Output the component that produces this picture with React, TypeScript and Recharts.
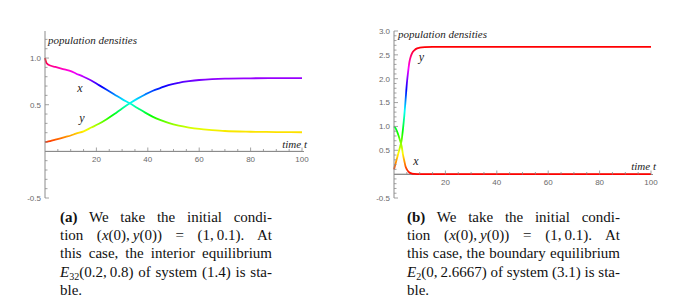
import React from "react";
import { LineChart, Line, XAxis, YAxis, ReferenceLine } from "recharts";

// panel (a): interior equilibrium E32(0.2, 0.8)
const timeA = [0, 0.5, 1, 2, 4, 6, 8, 10, 12, 15, 18, 21, 24, 27, 30, 33, 36, 39, 42, 45, 48, 52, 56, 60, 65, 70, 80, 90, 100];
const xA = [1.0, 0.95, 0.935, 0.92, 0.905, 0.89, 0.875, 0.86, 0.835, 0.8, 0.76, 0.71, 0.66, 0.61, 0.56, 0.515, 0.465, 0.415, 0.37, 0.335, 0.305, 0.275, 0.255, 0.24, 0.228, 0.218, 0.21, 0.207, 0.205];
const yA = [0.1, 0.102, 0.104, 0.11, 0.125, 0.14, 0.155, 0.17, 0.19, 0.215, 0.255, 0.295, 0.345, 0.4, 0.46, 0.515, 0.565, 0.61, 0.65, 0.68, 0.71, 0.735, 0.752, 0.765, 0.775, 0.78, 0.783, 0.785, 0.785];

// panel (b): boundary equilibrium E2(0, 2.6667)
const timeB = [0, 0.5, 1, 1.5, 2, 2.5, 3, 3.5, 4, 4.5, 5, 5.5, 6, 6.5, 7, 8, 9, 10, 12, 15, 20, 30, 40, 60, 80, 100];
const xB = [1.0, 0.97, 0.92, 0.85, 0.77, 0.68, 0.58, 0.41, 0.28, 0.16, 0.1, 0.06, 0.035, 0.02, 0.01, 0.004, 0.001, 0, 0, 0, 0, 0, 0, 0, 0, 0];
const yB = [0.1, 0.2, 0.3, 0.4, 0.5, 0.6, 0.72, 0.95, 1.22, 1.55, 1.9, 2.15, 2.35, 2.46, 2.53, 2.6, 2.635, 2.65, 2.662, 2.666, 2.6667, 2.6667, 2.6667, 2.6667, 2.6667, 2.6667];

const xTicks = [5, 10, 15, 20, 25, 30, 35, 40, 45, 50, 55, 60, 65, 70, 75, 80, 85, 90, 95, 100];
const xLabels = [20, 40, 60, 80, 100];
const yTicksA = [-0.5, -0.4, -0.3, -0.2, -0.1, 0.1, 0.2, 0.3, 0.4, 0.5, 0.6, 0.7, 0.8, 0.9, 1.0, 1.1, 1.2];
const yLabelsA = [-0.5, 0.5, 1.0];
const yTicksB = [-0.5, -0.4, -0.3, -0.2, -0.1, 0.1, 0.2, 0.3, 0.4, 0.5, 0.6, 0.7, 0.8, 0.9, 1.0, 1.1, 1.2, 1.3, 1.4, 1.5, 1.6, 1.7, 1.8, 1.9, 2.0, 2.1, 2.2, 2.3, 2.4, 2.5, 2.6, 2.7, 2.8, 2.9, 3.0];
const yLabelsB = [-0.5, 0.5, 1.0, 1.5, 2.0, 2.5, 3.0];

const AXIS = "#8c8c8c";
const TICK_TEXT = "#6a6a6a";
const SERIF = "'Liberation Serif', 'Times New Roman', serif";
const SANS = "'Liberation Sans', Arial, sans-serif";

const H = 210;
const TOP = 31;
const BOTTOM = 12;

const rowsA = timeA.map((t, i) => ({ t, x: xA[i], y: yA[i] }));
const rowsB = timeB.map((t, i) => ({ t, x: xB[i], y: yB[i] }));

// stops for a vertical hue gradient, coloured by value like Mathematica's ColorFunction -> Hue
function hueStops(min: number, max: number, lo: number, hi: number) {
  const n = 24;
  const out = [];
  for (let i = 0; i < n; i++) {
    const v = max - ((max - min) * i) / (n - 1);
    const h = Math.max(0, Math.min(360, ((v - lo) / (hi - lo)) * 360));
    out.push(<stop key={i} offset={`${(i / (n - 1)) * 100}%`} stopColor={`hsl(${h.toFixed(1)},100%,50%)`} />);
  }
  return out;
}

function YTick(props: any) {
  const { x, y, payload, labels } = props;
  const major = labels.includes(payload.value);
  return (
    <g>
      <line x1={x} x2={x + (major ? 4 : 2.5)} y1={y} y2={y} stroke={AXIS} strokeWidth={0.8} />
      {major && (
        <text x={x - 4} y={y} dy="0.35em" textAnchor="end" fontSize={8} fontFamily={SANS} fill={TICK_TEXT}>
          {payload.value.toFixed(1)}
        </text>
      )}
    </g>
  );
}

// x axis ticks sit on y = 0 (Mathematica style), not at the bottom of the plot
function XTick(props: any) {
  const { x, y, payload, shift } = props;
  const zy = Math.round(y - shift) + 0.5;
  const major = xLabels.includes(payload.value);
  return (
    <g>
      <line x1={x} x2={x} y1={zy} y2={zy - (major ? 4 : 2.5)} stroke={AXIS} strokeWidth={0.8} />
      {major && (
        <text x={x} y={zy + 10} textAnchor="middle" fontSize={8} fontFamily={SANS} fill={TICK_TEXT}>
          {payload.value}
        </text>
      )}
    </g>
  );
}

function Panel(props: any) {
  const { id, rows, width, right, axisW, domain, ticks, labels, xRange, yRange, lo, hi } = props;
  const plotH = H - TOP - BOTTOM;
  const shift = (plotH * (0 - domain[0])) / (domain[1] - domain[0]);
  const zeroY = Math.round(TOP + plotH - shift) + 0.5;
  return (
    <div style={{ position: "relative", width, height: H }}>
      <svg width={width} height={H} style={{ position: "absolute", left: 0, top: 0, pointerEvents: "none" }}>
        <line x1={axisW} x2={width - right + 2} y1={zeroY} y2={zeroY} stroke={AXIS} strokeWidth={1} />
      </svg>
      <div style={{ position: "absolute", left: 0, top: 0 }}>
        <LineChart width={width} height={H} data={rows} margin={{ top: TOP, right, bottom: 0, left: 0 }}>
          <defs>
            <linearGradient id={`${id}x`} x1="0" y1="0" x2="0" y2="1">
              {hueStops(xRange[0], xRange[1], lo, hi)}
            </linearGradient>
            <linearGradient id={`${id}y`} x1="0" y1="0" x2="0" y2="1">
              {hueStops(yRange[0], yRange[1], lo, hi)}
            </linearGradient>
          </defs>
          <XAxis
            dataKey="t"
            type="number"
            domain={[0, 100]}
            ticks={xTicks}
            interval={0}
            height={BOTTOM}
            axisLine={false}
            tickLine={false}
            tickSize={0}
            tickMargin={0}
            tick={<XTick shift={shift} />}
          />
          <YAxis
            type="number"
            domain={domain}
            allowDataOverflow
            ticks={ticks}
            interval={0}
            width={axisW}
            axisLine={{ stroke: AXIS, strokeWidth: 1 }}
            tickLine={false}
            tickSize={0}
            tickMargin={0}
            tick={<YTick labels={labels} />}
          />
          <ReferenceLine y={0} stroke={AXIS} strokeWidth={1} />
          <Line type="monotone" dataKey="x" stroke={`url(#${id}x)`} strokeWidth={1.8} dot={false} isAnimationActive={false} />
          <Line type="monotone" dataKey="y" stroke={`url(#${id}y)`} strokeWidth={1.8} dot={false} isAnimationActive={false} />
        </LineChart>
      </div>
    </div>
  );
}

const lineStyle: React.CSSProperties = { height: 18.2, lineHeight: "18.2px", textAlign: "justify", textAlignLast: "justify", whiteSpace: "nowrap" };
const lastStyle: React.CSSProperties = { height: 18.2, lineHeight: "18.2px", textAlign: "left" };
const subStyle: React.CSSProperties = { fontSize: 10, verticalAlign: "-3px", lineHeight: 0 };

function Caption(props: any) {
  const { left, width, tag, label, point, cite } = props;
  return (
    <div style={{ position: "absolute", left, top: 208, width, fontFamily: SERIF, fontSize: 15, color: "#111" }}>
      <div style={lineStyle}><b>({tag})</b> We take the initial condi-</div>
      <div style={lineStyle}>tion (<i>x</i>(0),{"\u2009"}<i>y</i>(0)) = (1,{"\u2009"}0.1). At</div>
      <div style={lineStyle}>this case, the {label} equilibrium</div>
      <div style={lineStyle}>{point} of system ({cite}) is sta-</div>
      <div style={lastStyle}>ble.</div>
    </div>
  );
}

export default function App() {
  const title = { fontFamily: SERIF, fontStyle: "italic", fontSize: 11, fill: "#222" } as const;
  const curve = { fontFamily: SERIF, fontStyle: "italic", fontSize: 12, fill: "#222" } as const;
  return (
    <div style={{ position: "absolute", left: 0, top: 0, width: 688, height: 307, background: "#fff", overflow: "hidden" }}>
      <div style={{ position: "absolute", left: 0, top: 0 }}>
        <Panel id="ga" rows={rowsA} width={344} right={42} axisW={45} domain={[-0.5, 1.29]} ticks={yTicksA} labels={yLabelsA}
          xRange={[0.205, 1.0]} yRange={[0.1, 0.785]} lo={0.07} hi={1.0} />
      </div>
      <div style={{ position: "absolute", left: 344, top: 0 }}>
        <Panel id="gb" rows={rowsB} width={344} right={37} axisW={50} domain={[-0.5, 3.0]} ticks={yTicksB} labels={yLabelsB}
          xRange={[0, 1.0]} yRange={[0.1, 2.6667]} lo={0} hi={2.6667} />
      </div>
      <svg width={688} height={307} style={{ position: "absolute", left: 0, top: 0, pointerEvents: "none" }}>
        <text x={48} y={43.5} style={title}>population densities</text>
        <text x={307} y={147.5} textAnchor="end" style={title}>time t</text>
        <text x={80} y={91.5} textAnchor="middle" style={curve}>x</text>
        <text x={82} y={122} textAnchor="middle" style={curve}>y</text>
        <text x={398} y={37.5} style={title}>population densities</text>
        <text x={656} y={170} textAnchor="end" style={title}>time t</text>
        <text x={421.5} y={61} textAnchor="middle" style={curve}>y</text>
        <text x={416} y={165} textAnchor="middle" style={curve}>x</text>
      </svg>
      <Caption left={60} width={212} tag="a" label="interior" cite="1.4"
        point={<><i>E</i><sub style={subStyle}>32</sub>(0.2,{"\u2009"}0.8)</>} />
      <Caption left={407} width={213} tag="b" label="boundary" cite="3.1"
        point={<><i>E</i><sub style={subStyle}>2</sub>(0,{"\u2009"}2.6667)</>} />
    </div>
  );
}
